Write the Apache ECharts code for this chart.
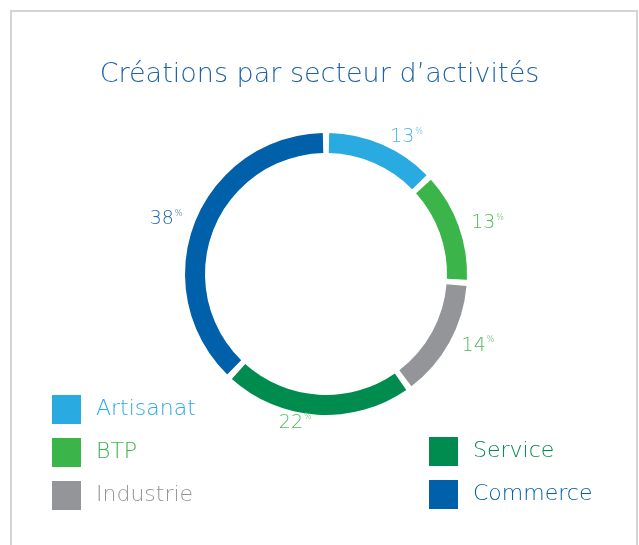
<!DOCTYPE html>
<html>
<head>
<meta charset="utf-8">
<script src="https://cdn.jsdelivr.net/npm/echarts@6/dist/echarts.min.js"></script>
<style>
  html, body { margin: 0; padding: 0; background: #fff; }
  #chart { width: 639px; height: 545px; }
</style>
</head>
<body>
<div id="chart"></div>
<script>
// Sector data
const sectors = ['Artisanat', 'BTP', 'Industrie', 'Service', 'Commerce'];
const shares = [13, 13, 14, 22, 38];
const sectorColors = ['#29abe2', '#3bb44a', '#939598', '#008c4f', '#0060a9'];
const labelColors = ['#4ab5e6', '#4cba5a', '#4cba5a', '#4cba5a', '#1f66ad'];
const legendLeft = ['Artisanat', 'BTP', 'Industrie'];
const legendRight = ['Service', 'Commerce'];

const fontFamily = '"DejaVu Sans", "Open Sans", sans-serif';

const chart = echarts.init(document.getElementById('chart'));

const legendItem = (name) => ({
  name: name,
  icon: 'rect',
  textStyle: { color: sectorColors[sectors.indexOf(name)] },
});

const legendBase = {
  orient: 'vertical',
  padding: 0,
  itemWidth: 29,
  itemHeight: 29,
  itemGap: 14,
  selectedMode: false,
  textStyle: {
    fontFamily: fontFamily,
    fontSize: 22,
    fontWeight: 200,
    padding: [0, 0, 0, 10],
  },
};

const option = {
  backgroundColor: '#fff',
  graphic: [
    {
      type: 'rect',
      shape: { x: 11, y: 11, width: 626, height: 560 },
      style: { fill: 'none', stroke: '#d4d4d4', lineWidth: 2 },
      silent: true,
    },
  ],
  title: {
    text: 'Créations par secteur d’activités',
    left: 'center',
    top: 56,
    textStyle: {
      fontFamily: fontFamily,
      fontSize: 27,
      fontWeight: 200,
      color: '#1d63a8',
    },
  },
  legend: [
    Object.assign({}, legendBase, {
      left: 52,
      top: 395,
      data: legendLeft.map(legendItem),
    }),
    Object.assign({}, legendBase, {
      left: 429,
      top: 437,
      data: legendRight.map(legendItem),
    }),
  ],
  series: [
    {
      type: 'pie',
      center: [326, 274],
      radius: [121, 141],
      startAngle: 90,
      clockwise: true,
      padAngle: 2.6,
      avoidLabelOverlap: false,
      silent: true,
      label: {
        show: true,
        position: 'outside',
        formatter: (p) => '{v|' + p.value + '}{p|%}',
        rich: {
          v: { fontFamily: fontFamily, fontSize: 19, fontWeight: 200 },
          p: { fontFamily: fontFamily, fontSize: 8, fontWeight: 200, verticalAlign: 'top', padding: [0, 0, 9, 1] },
        },
      },
      labelLine: { show: false, length: 8, length2: 0 },
      data: sectors.map((name, i) => ({
        name: name,
        value: shares[i],
        itemStyle: { color: sectorColors[i] },
        label: {
          rich: {
            v: { color: labelColors[i] },
            p: { color: labelColors[i] },
          },
        },
      })),
    },
  ],
};

chart.setOption(option);
</script>
</body>
</html>
